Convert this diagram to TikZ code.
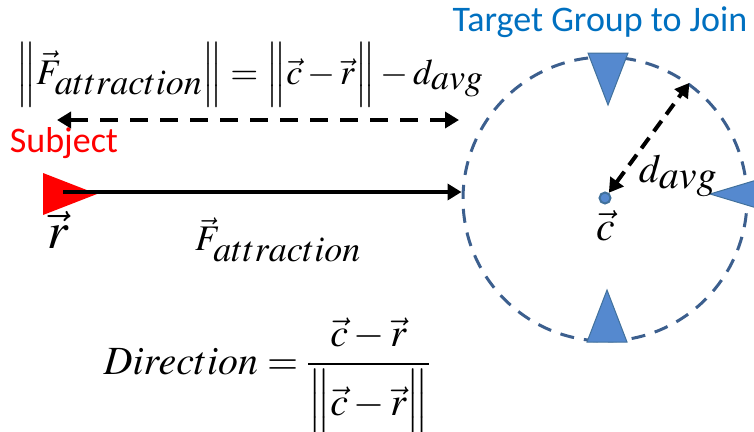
\documentclass[tikz,border=0pt]{standalone}
\usepackage{amsmath}
\usepackage{mathptmx}
\usepackage{fontspec}
\newfontfamily\calibri{Carlito}
\usetikzlibrary{arrows.meta}

\definecolor{titleblue}{HTML}{0070C0}
\definecolor{ringblue}{HTML}{3C5F8E}
\definecolor{memberblue}{HTML}{5589CF}
\definecolor{memberedge}{HTML}{41719C}
\definecolor{subjectred}{HTML}{FF0000}

\begin{document}
\begin{tikzpicture}[x=1pt,y=-1pt,
  ring/.style={draw=ringblue,line width=3pt,dash pattern=on 14pt off 10pt},
  member/.style={fill=memberblue,draw=memberedge,line width=1pt},
  force/.style={line width=4.5pt,-{Triangle[length=14pt,width=16pt]}},
  span/.style={line width=4.5pt,dash pattern=on 18pt off 12pt,
    {Triangle[length=14pt,width=16pt]}-{Triangle[length=14pt,width=16pt]}},
  eq/.style={inner sep=0pt,font=\fontsize{36}{40}\selectfont}
]
\clip (0,0) rectangle (754,431);

% Target group
\node[ring,circle,minimum size=284pt,inner sep=0pt] (group) at (605,199) {};
\node[member,circle,minimum size=11pt,inner sep=0pt,line width=2pt] (center) at (605,198) {};
\draw[member] (588,53) -- (628,53) -- (608,105) -- cycle;
\draw[member] (587,342) -- (627,342) -- (607,290) -- cycle;
\draw[member] (710,194) -- (770,176) -- (770,212) -- cycle;
\node[text=titleblue,font=\calibri\fontsize{36}{38}\selectfont] (title) at (600,22) {Target Group to Join};

% Subject
\fill[subjectred] (43,173) -- (43,215) -- (97,194) -- cycle;
\coordinate (subject) at (63,192);
\node[text=subjectred,font=\calibri\fontsize{36}{38}\selectfont] (name) at (64,143) {Subject};
\node[inner sep=0pt,font=\fontsize{52}{56}\selectfont] (rvec) at (58,230) {$\vec{r}$};

% Forces
\draw[force] (subject) -- (subject -| group.west);
\coordinate (gapL) at (57,120);
\coordinate (gapR) at (459,120);
\draw[span] (gapL) -- (gapR);
\draw[span,line width=4pt,dash pattern=on 13pt off 8pt] (center) -- (group.54);

% Labels
\node[eq] (force) at (278,240) {$\vec{F}_{\textstyle attraction}$};
\node[eq] (norm) at (250,75) {$\left\|\vec{F}_{\textstyle attraction}\right\| = \left\|\vphantom{\vec{F}_{\textstyle a}}\vec{c}-\vec{r}\right\| - d_{\textstyle avg}$};
\node[eq,font=\fontsize{42}{46}\selectfont] (cvec) at (606,226) {$\vec{c}$};
\node[eq,font=\fontsize{40}{44}\selectfont] (radius) at (678,176) {$d_{\textstyle avg}$};
\node[eq,font=\fontsize{40}{44}\selectfont] (direction) at (267,380) {$Direction=\dfrac{\vec{c}-\vec{r}}{\left\|\vphantom{\vec{F}_{a}}\vec{c}-\vec{r}\right\|}$};
\end{tikzpicture}
\end{document}
